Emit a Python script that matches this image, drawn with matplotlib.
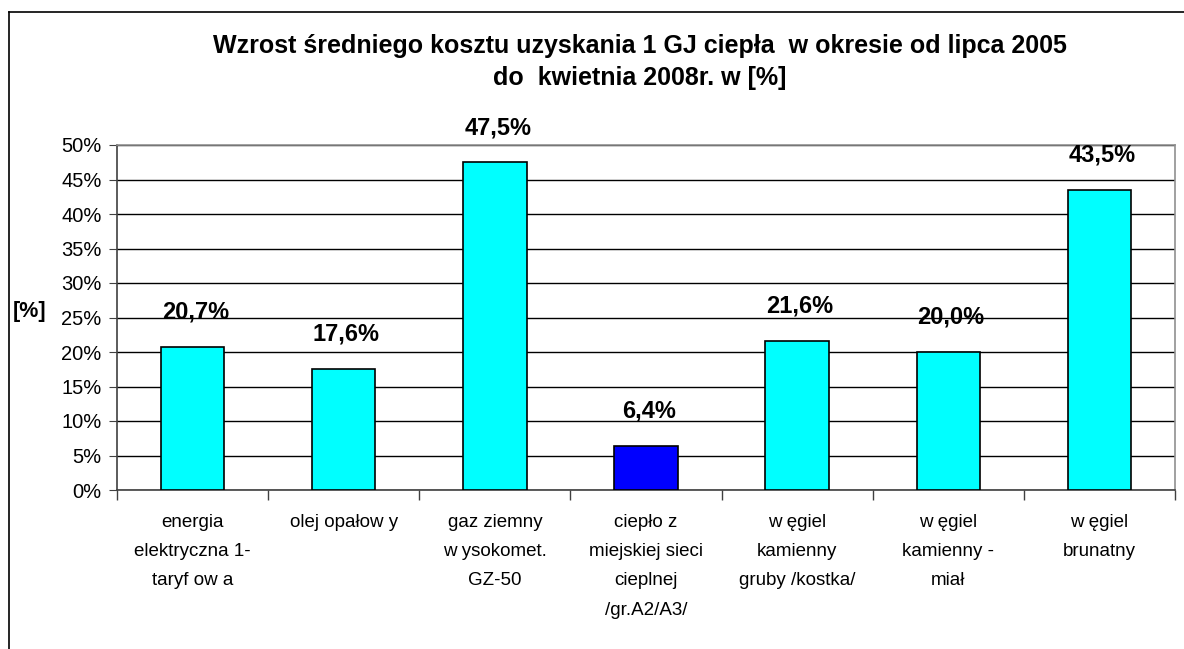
import numpy as np
import matplotlib
matplotlib.use("Agg")
import matplotlib.pyplot as plt
from matplotlib.ticker import FixedLocator

plt.rcParams['font.family'] = ['Liberation Sans', 'DejaVu Sans']

# dane
categories = [
    "energia\nelektryczna 1-\ntaryf ow a",
    "olej opałow y",
    "gaz ziemny\nw ysokomet.\nGZ-50",
    "ciepło z\nmiejskiej sieci\ncieplnej\n/gr.A2/A3/",
    "w ęgiel\nkamienny\ngruby /kostka/",
    "w ęgiel\nkamienny -\nmiał",
    "w ęgiel\nbrunatny",
]
values = [20.7, 17.6, 47.5, 6.4, 21.6, 20.0, 43.5]
value_labels = ["20,7%", "17,6%", "47,5%", "6,4%", "21,6%", "20,0%", "43,5%"]
bar_colors = ['#00FFFF', '#00FFFF', '#00FFFF', '#0000FF', '#00FFFF', '#00FFFF', '#00FFFF']
y_ticks = [0, 5, 10, 15, 20, 25, 30, 35, 40, 45, 50]

title = ("Wzrost średniego kosztu uzyskania 1 GJ ciepła  w okresie od lipca 2005\n"
         "do  kwietnia 2008r. w [%]")

fig = plt.figure(figsize=(11.84, 6.49), dpi=100)
W, H = 1184, 649
# obszar wykresu w pikselach: x 117-1175, y 145-490
ax = fig.add_axes([117 / W, 1 - 490 / H, (1175 - 117) / W, (490 - 145) / H])

x = np.arange(len(values))
ax.bar(x, values, width=0.42, color=bar_colors, edgecolor='black', linewidth=1.2, zorder=3)

for xi, v, lab in zip(x, values, value_labels):
    ax.annotate(lab, (xi, v), xytext=(2, 25), textcoords='offset points',
                ha='center', va='center', fontsize=17, fontweight='bold', zorder=4)

ax.set_xlim(-0.5, len(values) - 0.5)
ax.set_ylim(0, 50)
ax.set_yticks(y_ticks)
ax.set_yticklabels([f"{t}%" for t in y_ticks], fontsize=14.5)
ax.yaxis.grid(True, color='black', linewidth=1, zorder=0)
ax.set_axisbelow(True)

ax.xaxis.set_major_locator(FixedLocator(list(x)))
ax.set_xticklabels(categories, fontsize=13.5, linespacing=1.95, va='top')
ax.tick_params(axis='x', which='major', length=0, pad=17)
ax.xaxis.set_minor_locator(FixedLocator(list(np.arange(-0.5, len(values), 1.0))))
ax.tick_params(axis='x', which='minor', length=7, direction='out', color='#404040', width=1)
ax.tick_params(axis='y', length=6, direction='out', color='#404040', pad=5)

for side in ['top', 'right']:
    ax.spines[side].set_color('#909090')
for side in ['left', 'bottom']:
    ax.spines[side].set_color('#404040')
for sp in ax.spines.values():
    sp.set_linewidth(1.2)

fig.text(30 / W, 1 - 312 / H, "[%]", fontsize=15.5, fontweight='bold', ha='center', va='center')
fig.text(640 / W, 1 - 62 / H, title, fontsize=18, fontweight='bold', ha='center', va='center',
         linespacing=1.45)

# ramka wykresu (widoczna góra i lewa krawędź)
fig.add_artist(plt.Line2D([9 / W, 1], [1 - 12 / H, 1 - 12 / H], color='black', linewidth=1.2))
fig.add_artist(plt.Line2D([9 / W, 9 / W], [0, 1 - 12 / H], color='black', linewidth=1.2))

fig.savefig('out.png', dpi=100, facecolor='white')
